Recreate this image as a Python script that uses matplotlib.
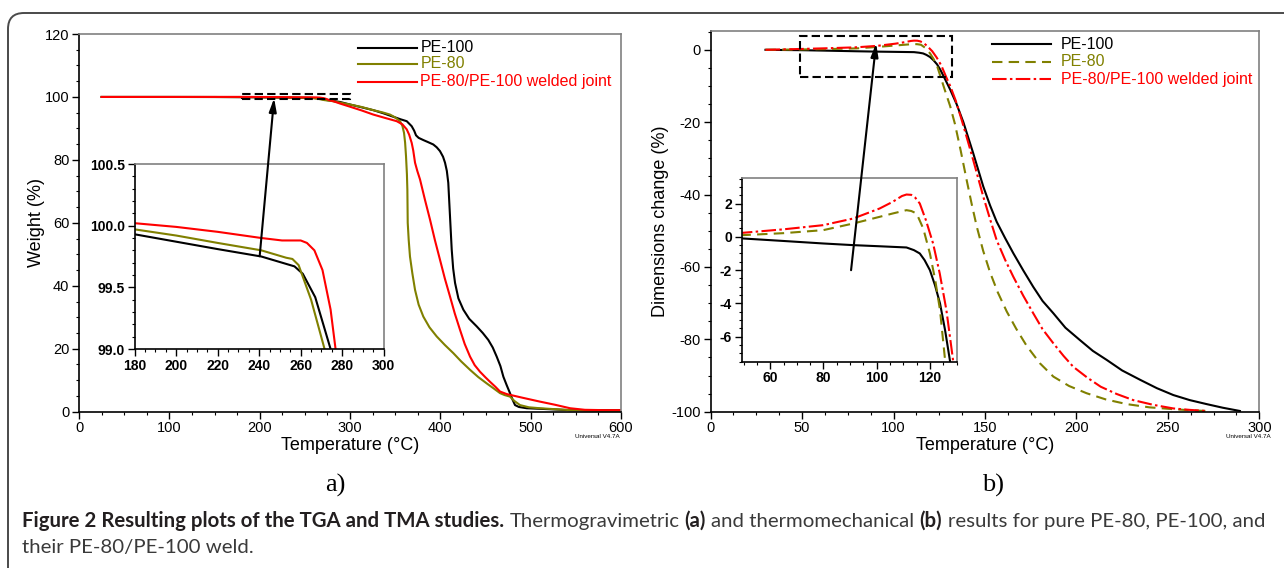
import matplotlib
matplotlib.use('Agg')
import matplotlib.pyplot as plt
from matplotlib.patches import Rectangle, FancyArrowPatch, FancyBboxPatch
from matplotlib.ticker import MultipleLocator, FormatStrFormatter

plt.rcParams['font.family'] = ['Liberation Sans', 'DejaVu Sans']
plt.rcParams['axes.unicode_minus'] = False

W, H = 1284, 568
OLIVE = '#808000'
GRAY_SPINE = '#808080'

# ---------------- data ----------------
series_names = ['PE-100', 'PE-80', 'PE-80/PE-100 welded joint']
series_colors = ['black', OLIVE, 'red']

# TGA: weight (%) vs temperature (C)
tga_t_pe100 = [25, 100, 150, 180, 200, 220, 241, 249, 257, 261,
               267, 274.4, 280, 289, 300, 313, 325.8, 337, 348, 356,
               362.8, 368.3, 371, 373.1, 376, 381.2, 386, 392.2, 396, 399.6,
               403, 405.2, 407.2, 408.8, 410.7, 412.6, 414.2, 416.3, 420, 425.5,
               432, 440.3, 447, 453.1, 458, 462.4, 466.5, 469.8, 473.5, 477.1,
               480, 482.7, 487, 495.6, 520, 543.6, 570, 600]
tga_w_pe100 = [100, 100, 99.98, 99.93, 99.87, 99.81, 99.75, 99.71, 99.67, 99.61,
               99.42, 99.0, 98.8, 98.4, 97.6, 96.7, 95.8, 94.8, 93.7, 92.9,
               92.3, 90.7, 89.3, 87.8, 87.0, 86.3, 85.7, 84.9, 84.0, 82.8,
               81.0, 79.1, 76.5, 72.7, 62.1, 51.5, 45.5, 40.9, 36.0, 32.4,
               29.5, 27.1, 25.0, 22.8, 20.4, 17.5, 14.5, 11.1, 8.4, 5.9,
               3.8, 2.1, 1.5, 1.1, 0.8, 0.5, 0.5, 0.5]

tga_t_pe80 = [25, 100, 150, 180, 200, 220, 241, 253, 256, 259,
              265, 271.5, 280, 289, 300, 313, 325.8, 336, 344.3, 350,
              355.4, 358, 359.8, 361, 362, 363, 363.5, 363.9, 365, 366.4,
              369, 372, 376, 381.2, 388, 396, 405, 414.4, 423, 432.9,
              442, 451.3, 459, 466.1, 471, 477.1, 482, 488.2, 498, 510.3,
              543.6, 570, 600]
tga_w_pe80 = [100, 100, 99.99, 99.97, 99.92, 99.86, 99.8, 99.74, 99.73, 99.68,
              99.4, 99.0, 98.7, 98.2, 97.6, 96.8, 95.8, 95.1, 94.4, 93.5,
              92.3, 90.8, 88.6, 85.5, 81.2, 75.5, 70.6, 60.0, 54.5, 49.3,
              44.0, 38.7, 34.0, 30.2, 26.8, 23.9, 21.2, 18.6, 16.0, 13.3,
              11.0, 9.0, 7.4, 5.9, 5.3, 4.8, 3.4, 2.1, 1.4, 1.1,
              0.5, 0.3, 0.3]

tga_t_weld = [25, 100, 150, 180, 200, 220, 241, 251, 260, 263,
              266.6, 270.5, 274.4, 276.8, 282, 289, 300, 313, 325.8, 338,
              351.7, 358, 362.8, 365.5, 368.3, 370, 372, 374.5, 377.5, 383,
              388.6, 394, 399.6, 405, 410.7, 416, 421.8, 427, 432.9, 438,
              443.9, 450, 455, 461, 466.1, 473.5, 490, 510.3, 527, 543.6,
              560, 580, 600]
tga_w_weld = [100, 100, 100.01, 100.02, 99.99, 99.95, 99.9, 99.88, 99.88, 99.86,
              99.8, 99.64, 99.32, 99.0, 98.6, 97.9, 96.9, 95.7, 94.4, 93.4,
              92.3, 91.3, 89.7, 88.0, 85.4, 83.0, 79.1, 76.5, 73.8, 67.3,
              61.0, 54.5, 48.3, 42.3, 36.6, 31.2, 26.0, 21.5, 17.5, 14.8,
              12.7, 10.9, 9.5, 7.9, 6.4, 5.6, 4.5, 3.2, 2.2, 1.1,
              0.6, 0.5, 0.5]

# TMA: dimension change (%) vs temperature (C)
tma_t_pe100 = [30, 49.7, 65, 79.9, 91.2, 100, 111.2, 114, 116.2, 118,
               120, 121.9, 123.8, 125.7, 127.5, 131, 134.5, 138.2, 143.6, 149.1,
               152.8, 156.4, 161, 165.5, 171, 176.4, 181.5, 187.4, 194, 201.9,
               209, 216.6, 225, 234.9, 244, 253, 262, 271.2, 280, 289.4]
tma_d_pe100 = [0, -0.1, -0.25, -0.4, -0.5, -0.56, -0.64, -0.8, -1.0, -1.4,
               -2.0, -2.9, -4.0, -5.6, -7.4, -11.0, -15.0, -20.0, -28.6, -37.8,
               -43.0, -47.5, -52.0, -56.2, -61.0, -65.5, -69.4, -72.8, -76.8, -80.2,
               -83.2, -85.7, -88.6, -91.2, -93.5, -95.4, -96.8, -97.9, -98.9, -99.8]

tma_t_pe80 = [30, 49.7, 65, 79.9, 91.2, 101.1, 106, 111.2, 113, 115,
              117.5, 120, 122, 123.8, 125.7, 128.5, 131, 133.6, 136.8, 140,
              142.7, 145.5, 149, 152.8, 157, 161.9, 167, 172.8, 180, 187.4,
              196, 205.6, 216, 227.5, 240, 253, 262, 271.2]
tma_d_pe80 = [0, 0.1, 0.22, 0.4, 0.8, 1.2, 1.4, 1.6, 1.55, 1.4,
              0.5, -1.0, -2.6, -4.4, -7.4, -11.8, -15.6, -20.5, -28.0, -36.0,
              -42.5, -48.8, -55.5, -61.5, -67.0, -72.3, -77.0, -81.8, -86.6, -90.3,
              -92.9, -94.9, -96.6, -97.9, -98.8, -99.3, -99.6, -99.8]

tma_t_weld = [30, 49.6, 65, 79.9, 91.2, 101.1, 106, 109.5, 111.2, 113,
              114.5, 116.2, 118.5, 121.2, 123.7, 126.2, 128.7, 131, 134, 137.3,
              140.5, 143.6, 149.1, 152.8, 156.4, 161, 165.5, 171, 176.4, 181.5,
              187.4, 193, 198.3, 206, 213.3, 222, 231.1, 242, 253, 262, 271.2]
tma_d_weld = [0, 0.24, 0.45, 0.7, 1.1, 1.7, 2.1, 2.45, 2.54, 2.52,
              2.35, 2.0, 1.0, -0.4, -2.2, -4.4, -7.4, -10.0, -14.0, -19.4,
              -25.0, -30.5, -40.6, -46.8, -52.6, -58.0, -62.7, -68.0, -72.8, -77.2,
              -81.1, -84.6, -87.6, -90.6, -93.1, -95.1, -96.8, -98.1, -99.1, -99.5, -99.8]

tga_data = [(tga_t_pe100, tga_w_pe100), (tga_t_pe80, tga_w_pe80), (tga_t_weld, tga_w_weld)]
tma_data = [(tma_t_pe100, tma_d_pe100), (tma_t_pe80, tma_d_pe80), (tma_t_weld, tma_d_weld)]
tma_styles = [dict(linestyle='-'),
              dict(linestyle=(0, (5, 3))),
              dict(linestyle=(0, (7, 1.6, 1.2, 1.6)))]

caption_line1 = [("Figure 2 Resulting plots of the TGA and TMA studies.", True),
                 (" Thermogravimetric ", False), ("(a)", True),
                 (" and thermomechanical ", False), ("(b)", True),
                 (" results for pure PE-80, PE-100, and", False)]
caption_line2 = [("their PE-80/PE-100 weld.", False)]


def px_rect(left, top, right, bottom):
    return [left / W, 1 - bottom / H, (right - left) / W, (bottom - top) / H]


def style_axes(ax, inset=False):
    for s in ['top', 'right']:
        ax.spines[s].set_color(GRAY_SPINE)
    for s in ['left', 'bottom']:
        ax.spines[s].set_color('black')
    for s in ax.spines.values():
        s.set_linewidth(1.2)
    ax.tick_params(which='major', direction='out', length=5, width=1, pad=2,
                   top=False, right=False)
    ax.tick_params(which='minor', direction='out', length=2.5, width=0.8,
                   top=False, right=False)
    if inset:
        ax.tick_params(labelsize=10)
        for lab in ax.get_xticklabels() + ax.get_yticklabels():
            lab.set_fontweight('bold')
    else:
        ax.tick_params(labelsize=10.5)


fig = plt.figure(figsize=(W / 100, H / 100), dpi=100)

# ---------------- panel a) TGA ----------------
ax1 = fig.add_axes(px_rect(79, 34, 621, 411.7))
for (t, w), c in zip(tga_data, series_colors):
    ax1.plot(t, w, color=c, lw=1.5)
ax1.set_xlim(0, 600)
ax1.set_ylim(0, 120)
ax1.xaxis.set_major_locator(MultipleLocator(100))
ax1.xaxis.set_minor_locator(MultipleLocator(25))
ax1.yaxis.set_major_locator(MultipleLocator(20))
ax1.yaxis.set_minor_locator(MultipleLocator(5))
style_axes(ax1)
ax1.set_xlabel('Temperature (°C)', fontsize=13, labelpad=1)
ax1.set_ylabel('Weight (%)', fontsize=13, labelpad=0)
ax1.add_patch(Rectangle((180, 99.2), 120, 1.8, fill=False, ec='black',
                        lw=1.5, ls=(0, (4, 2)), zorder=5))

lx0, lx1, ltx = 0.515, 0.624, 0.630
rows = [0.9637, 0.9206, 0.8737]
for name, c, y in zip(series_names, series_colors, rows):
    ax1.plot([lx0, lx1], [y, y], color=c, lw=1.5, transform=ax1.transAxes)
    ax1.text(ltx, y, name, color=c, fontsize=11.5, va='center',
             transform=ax1.transAxes)

ax1i = fig.add_axes(px_rect(134.7, 164, 383.7, 349))
for (t, w), c in zip(tga_data, series_colors):
    ax1i.plot(t, w, color=c, lw=1.5)
ax1i.set_xlim(180, 300)
ax1i.set_ylim(99.0, 100.5)
ax1i.xaxis.set_major_locator(MultipleLocator(20))
ax1i.xaxis.set_minor_locator(MultipleLocator(5))
ax1i.yaxis.set_major_locator(MultipleLocator(0.5))
ax1i.yaxis.set_minor_locator(MultipleLocator(0.1))
ax1i.yaxis.set_major_formatter(FormatStrFormatter('%.1f'))
style_axes(ax1i, inset=True)

fig.add_artist(FancyArrowPatch((200, 49.4), (216, 99.6), transform=ax1.transData,
                               arrowstyle='-|>,head_length=0.8,head_width=0.22',
                               mutation_scale=10, color='black', lw=1.5,
                               shrinkA=0, shrinkB=0, zorder=5))

# ---------------- panel b) TMA ----------------
ax2 = fig.add_axes(px_rect(710.6, 31, 1259.3, 411.7))
for (t, d), c, st in zip(tma_data, series_colors, tma_styles):
    ax2.plot(t, d, color=c, lw=1.5, **st)
ax2.set_xlim(0, 300)
ax2.set_ylim(-100, 5.2)
ax2.xaxis.set_major_locator(MultipleLocator(50))
ax2.xaxis.set_minor_locator(MultipleLocator(12.5))
ax2.yaxis.set_major_locator(MultipleLocator(20))
ax2.yaxis.set_minor_locator(MultipleLocator(5))
style_axes(ax2)
ax2.set_xlabel('Temperature (°C)', fontsize=13, labelpad=1)
ax2.set_ylabel('Dimensions change (%)', fontsize=13, labelpad=2)
ax2.add_patch(Rectangle((49, -7.45), 83.2, 11.3, fill=False, ec='black',
                        lw=1.5, ls=(0, (4, 2)), zorder=5))

lx0, lx1, ltx = 0.5136, 0.6198, 0.638
rows = [0.965, 0.9194, 0.8732]
for name, c, y, st in zip(series_names, series_colors, rows, tma_styles):
    ax2.plot([lx0, lx1], [y, y], color=c, lw=1.5, transform=ax2.transAxes, **st)
    ax2.text(ltx, y, name, color=c, fontsize=11.5, va='center',
             transform=ax2.transAxes)

ax2i = fig.add_axes(px_rect(741.8, 177.7, 957.3, 361.7))
for (t, d), c, st in zip(tma_data, series_colors, tma_styles):
    ax2i.plot(t, d, color=c, lw=1.5, **st)
ax2i.set_xlim(49.3, 130.3)
ax2i.set_ylim(-7.5, 3.55)
ax2i.xaxis.set_major_locator(MultipleLocator(20))
ax2i.xaxis.set_minor_locator(MultipleLocator(5))
ax2i.yaxis.set_major_locator(MultipleLocator(2))
ax2i.yaxis.set_minor_locator(MultipleLocator(0.5))
style_axes(ax2i, inset=True)

fig.add_artist(FancyArrowPatch((76.8, -60.9), (90.5, 1.8), transform=ax2.transData,
                               arrowstyle='-|>,head_length=0.8,head_width=0.22',
                               mutation_scale=10, color='black', lw=1.5,
                               shrinkA=0, shrinkB=0, zorder=5))

# small instrument tags
fig.text(597 / W, 1 - 437 / H, 'Universal V4.7A', fontsize=4.5, ha='center', va='center')
fig.text(1248 / W, 1 - 437 / H, 'Universal V4.7A', fontsize=4.5, ha='center', va='center')

# panel letters
fig.text(335 / W, 1 - 485 / H, 'a)', fontsize=19, family='Liberation Serif',
         ha='center', va='center')
fig.text(993 / W, 1 - 485 / H, 'b)', fontsize=19, family='Liberation Serif',
         ha='center', va='center')

# rounded frame
fig.add_artist(FancyBboxPatch((0.08, -1.0), 14.0, 5.55 + 1.0,
                              boxstyle='round,pad=0,rounding_size=0.16',
                              transform=fig.dpi_scale_trans, fill=False,
                              ec='#4a4a4a', lw=1.4))

# ---------------- caption ----------------
CAP_FONT = ['Lato', 'DejaVu Sans']
renderer = fig.canvas.get_renderer()


def text_width(s, size, bold):
    t = fig.text(0, 0, s, fontsize=size, family=CAP_FONT,
                 fontweight='bold' if bold else 'normal')
    wdt = t.get_window_extent(renderer).width
    t.remove()
    return wdt


def piece_advance(s, size, bold):
    core = s.strip()
    sp = text_width('a a', size, bold) - text_width('aa', size, bold)
    lead = len(s) - len(s.lstrip())
    trail = len(s) - len(s.rstrip())
    return lead * sp, text_width(core, size, bold), trail * sp


def line_width(pieces, size):
    tot = 0
    for s, b in pieces:
        a, w, c = piece_advance(s, size, b)
        tot += a + w + c
    return tot


def put_line(pieces, x0, base_y, size):
    x = x0
    for s, b in pieces:
        a, w, c = piece_advance(s, size, b)
        x += a
        fig.text(x / W, 1 - base_y / H, s.strip(), fontsize=size, family=CAP_FONT,
                 fontweight='bold' if b else 'normal', va='baseline', ha='left',
                 color='#231f20' if b else '#3a3a3a')
        x += w + c


cap_size = 10 * 1240 / line_width(caption_line1, 10)
put_line(caption_line1, 22, 527, cap_size)
put_line(caption_line2, 22, 553, cap_size)

fig.savefig('out.png', dpi=100)
